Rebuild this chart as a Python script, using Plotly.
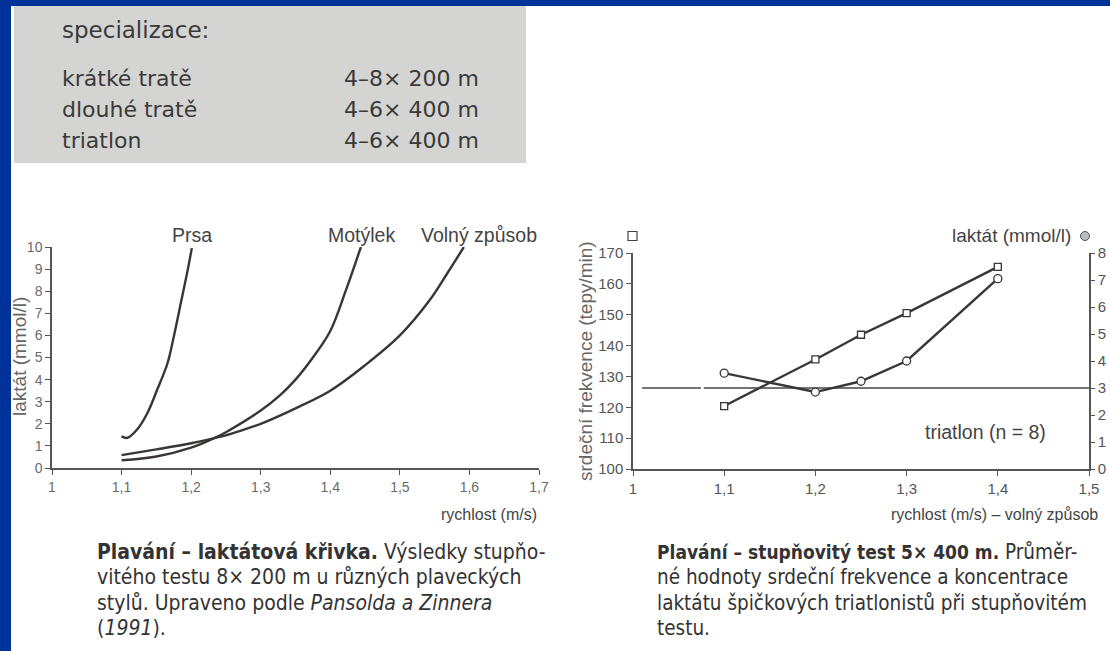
import plotly.graph_objects as go

W, H = 1110, 651

# ---- data -------------------------------------------------------------
# Lactate curves of a 8x200 m step test (speed in m/s, lactate in mmol/l)
prsa_speed = [1.100, 1.108, 1.122, 1.137, 1.151, 1.166, 1.175, 1.185, 1.195, 1.201]
prsa_lactate = [1.43, 1.36, 1.73, 2.48, 3.53, 4.74, 5.94, 7.44, 8.95, 9.95]

motylek_speed = [1.10, 1.15, 1.20, 1.233, 1.25, 1.30, 1.328, 1.35, 1.375, 1.40, 1.422, 1.444]
motylek_lactate = [0.35, 0.52, 0.92, 1.35, 1.62, 2.60, 3.30, 4.00, 5.00, 6.20, 8.00, 10.0]

volny_speed = [1.10, 1.15, 1.20, 1.233, 1.25, 1.30, 1.35, 1.40, 1.45, 1.50, 1.543, 1.568, 1.592]
volny_lactate = [0.58, 0.84, 1.12, 1.35, 1.48, 2.00, 2.70, 3.50, 4.65, 6.00, 7.60, 8.80, 10.0]

# 5x400 m step test of triathletes
test_speed = [1.1, 1.2, 1.25, 1.3, 1.4]
heart_rate = [120.4, 135.5, 143.5, 150.5, 165.5]
test_lactate = [3.55, 2.85, 3.25, 4.0, 7.05]

# 3 mmol/l reference line (drawn in two pieces, as printed)
ref_speed = [1.01, 1.0745, None, 1.0775, 1.5]
ref_lactate = [3, 3, None, 3, 3]

# tick values and labels
left_xticks = [1, 1.1, 1.2, 1.3, 1.4, 1.5, 1.6, 1.7]
left_xlabels = ["1", "1,1", "1,2", "1,3", "1,4", "1,5", "1,6", "1,7"]
left_yticks = list(range(0, 11))
right_xticks = [1, 1.1, 1.2, 1.3, 1.4, 1.5]
right_xlabels = ["1", "1,1", "1,2", "1,3", "1,4", "1,5"]
hr_ticks = [100, 110, 120, 130, 140, 150, 160, 170]
lac_ticks = list(range(0, 9))

spec_rows = ["krátké tratě", "dlouhé tratě", "triatlon"]
spec_sets = ["4–8× 200 m", "4–6× 400 m", "4–6× 400 m"]

caption_left = [
    "<b>Plavání – laktátová křivka.</b> Výsledky stupňo-",
    "vitého testu 8× 200 m u různých plaveckých",
    "stylů. Upraveno podle <i>Pansolda a Zinnera</i>",
    "(<i>1991</i>).",
]
caption_right = [
    "<b><span style='font-size:19px'>Plavání – stupňovitý test 5× 400 m.</span></b> Průměr-",
    "né hodnoty srdeční frekvence a koncentrace",
    "laktátu špičkových triatlonistů při stupňovitém",
    "testu.",
]

# ---- helpers ----------------------------------------------------------
def px(x):
    return x / W


def py(y):
    return (H - y) / H


LINE = "#3b3636"
AXIS = "#555555"
FONT = "Liberation Sans, Arial, sans-serif"

fig = go.Figure()

curve_style = dict(mode="lines", line=dict(color=LINE, width=2.4, shape="spline", smoothing=1.0),
                   showlegend=False, hoverinfo="skip")
fig.add_trace(go.Scatter(x=prsa_speed, y=prsa_lactate, xaxis="x", yaxis="y", **curve_style))
fig.add_trace(go.Scatter(x=motylek_speed, y=motylek_lactate, xaxis="x", yaxis="y", **curve_style))
fig.add_trace(go.Scatter(x=volny_speed, y=volny_lactate, xaxis="x", yaxis="y", **curve_style))

fig.add_trace(go.Scatter(x=ref_speed, y=ref_lactate, xaxis="x2", yaxis="y3", mode="lines",
                         line=dict(color="#444444", width=1.4), showlegend=False, hoverinfo="skip"))
fig.add_trace(go.Scatter(x=test_speed, y=heart_rate, xaxis="x2", yaxis="y2", mode="lines+markers",
                         line=dict(color=LINE, width=2.4),
                         marker=dict(symbol="square", size=7, color="white",
                                     line=dict(color=LINE, width=1.3)),
                         showlegend=False))
fig.add_trace(go.Scatter(x=test_speed, y=test_lactate, xaxis="x2", yaxis="y3", mode="lines+markers",
                         line=dict(color=LINE, width=2.4),
                         marker=dict(symbol="circle", size=8, color="white",
                                     line=dict(color=LINE, width=1.3)),
                         showlegend=False))

axis_common = dict(showline=True, linecolor=AXIS, linewidth=1.5, ticks="outside", ticklen=5,
                   tickwidth=1.3, tickcolor=AXIS, showgrid=False, zeroline=False, fixedrange=True,
                   automargin=False)

fig.update_layout(
    width=W, height=H,
    margin=dict(l=0, r=0, t=0, b=0, pad=0, autoexpand=False),
    paper_bgcolor="#003399",
    plot_bgcolor="rgba(0,0,0,0)",
    font=dict(family=FONT, color="#444444"),
    xaxis=dict(domain=[px(52), px(539)], range=[1, 1.7], anchor="y",
               tickvals=left_xticks, ticktext=left_xlabels,
               tickfont=dict(size=14, color="#6a6a6a"), **axis_common),
    yaxis=dict(domain=[py(468), py(247)], range=[0, 10], anchor="x",
               tickvals=left_yticks, tickfont=dict(size=14, color="#6a6a6a"), **axis_common),
    xaxis2=dict(domain=[px(633), px(1089)], range=[1, 1.5], anchor="y2",
                tickvals=right_xticks, ticktext=right_xlabels,
                tickfont=dict(size=15, color="#555555"), **axis_common),
    yaxis2=dict(domain=[py(469), py(253)], range=[100, 170], anchor="x2",
                tickvals=hr_ticks, tickfont=dict(size=15, color="#555555"), **axis_common),
    yaxis3=dict(domain=[py(469), py(253)], range=[0, 8], anchor="x2", overlaying="y2", side="right",
                tickvals=lac_ticks, tickfont=dict(size=15, color="#555555"), **axis_common),
)
fig.update_layout(yaxis3_ticklen=4)

# page and the grey information box
shapes = [
    dict(type="rect", xref="paper", yref="paper", x0=px(11), x1=1, y0=0, y1=py(6),
         fillcolor="white", line=dict(width=0), layer="below"),
    dict(type="rect", xref="paper", yref="paper", x0=px(14), x1=px(526), y0=py(163), y1=py(6),
         fillcolor="#d4d4d2", line=dict(width=0), layer="below"),
    # series keys of the right chart
    dict(type="rect", xref="paper", yref="paper", x0=px(628), x1=px(637), y0=py(240.5), y1=py(231.5),
         fillcolor="white", line=dict(color="#444444", width=1.2)),
    dict(type="circle", xref="paper", yref="paper", x0=px(1080.5), x1=px(1089.5), y0=py(240.5), y1=py(231.5),
         fillcolor="#b8bcc0", line=dict(color="#555555", width=1)),
]
fig.update_layout(shapes=shapes)

ann = []


def text(x, y, s, size, color="#444444", xanchor="center", family=FONT, angle=0):
    ann.append(dict(x=px(x), y=py(y), xref="paper", yref="paper", text=s, showarrow=False,
                    xanchor=xanchor, yanchor="middle", textangle=angle,
                    font=dict(size=size, color=color, family=family)))


BOX_FONT = "DejaVu Sans, sans-serif"
text(60, 30, "specializace:", 23, "#3a3a3a", "left", BOX_FONT)
for i, (row, sets) in enumerate(zip(spec_rows, spec_sets)):
    yy = 78 + i * 31.5
    text(60, yy, row, 22, "#3a3a3a", "left", BOX_FONT)
    text(342, yy, sets, 22, "#3a3a3a", "left", BOX_FONT)

# left chart labels
text(192, 235, "Prsa", 19.5)
text(361, 235, "Motýlek", 19.5)
text(479, 235, "Volný způsob", 19.5)
text(19, 357, "laktát (mmol/l)", 19, "#666666", angle=-90)
text(539, 514, "rychlost (m/s)", 16, "#444444", "right")

# right chart labels
text(1073, 236, "laktát (mmol/l)", 19, "#444444", "right")
text(585, 361, "srdeční frekvence (tepy/min)", 19, "#666666", angle=-90)
text(985, 432, "triatlon (n = 8)", 19.5, "#444444")
text(1100, 514, "rychlost (m/s) – volný způsob", 16, "#444444", "right")

CAP_FONT = "Liberation Sans Narrow, DejaVu Sans Condensed, sans-serif"
for i, line in enumerate(caption_left):
    text(95, 552 + i * 25.3, line, 21, "#333333", "left", CAP_FONT)
for i, line in enumerate(caption_right):
    text(655, 552 + i * 25.3, line, 20.5, "#333333", "left", CAP_FONT)

fig.update_layout(annotations=ann)

fig.write_html("out.html")
